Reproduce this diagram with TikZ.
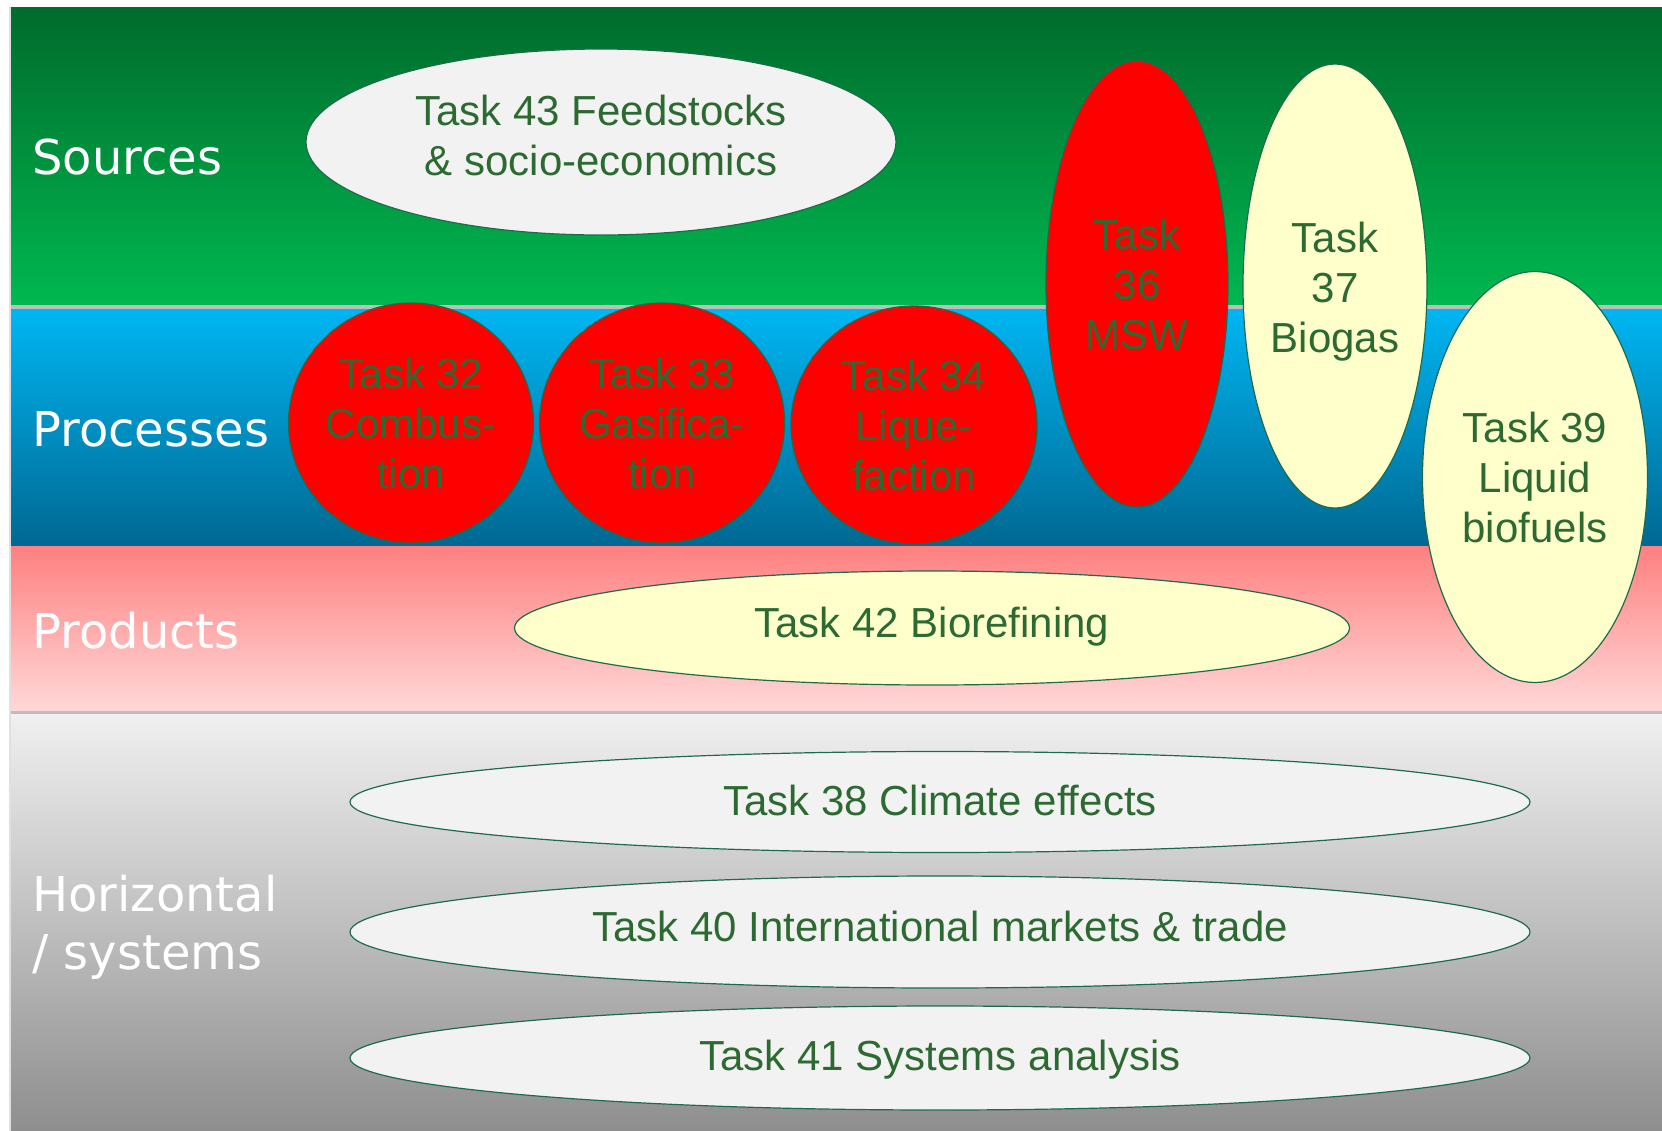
\documentclass[tikz,border=0pt]{standalone}
\usepackage{fontspec}
\setmainfont{Liberation Sans}
\newfontfamily\taskfont{Liberation Sans}
\newfontfamily\labfont{DejaVu Sans}
\usetikzlibrary{shapes.geometric}
\definecolor{grnTop}{HTML}{006B2C}
\definecolor{grnBot}{HTML}{00B850}
\definecolor{bluTop}{HTML}{00B6F2}
\definecolor{bluBot}{HTML}{006892}
\definecolor{pnkTop}{HTML}{FF8080}
\definecolor{pnkBot}{HTML}{FFD8D8}
\definecolor{gryTop}{HTML}{F0F0F0}
\definecolor{gryBot}{HTML}{8E8E8E}
\definecolor{sepgray}{HTML}{BDBDBD}
\definecolor{edgecol}{HTML}{1E6B4C}
\definecolor{txtcol}{HTML}{2C6A32}
\definecolor{lgray}{HTML}{F2F2F2}
\definecolor{lyellow}{HTML}{FFFFCC}
\definecolor{tred}{HTML}{FF0000}
% text whose first baseline sits #1 above the node centre
\newcommand{\tlines}[2]{\raisebox{#1}[0pt][0pt]{\begin{tabular}[t]{@{}c@{}}#2\end{tabular}}}
\tikzset{
  task/.style={ellipse, draw=edgecol, line width=0.6pt, inner sep=0pt, text=txtcol,
    font=\taskfont\fontsize{21}{25}\selectfont, align=center},
  lab/.style={anchor=west, inner sep=0pt, text=white, align=left,
    font=\labfont\fontsize{24}{29}\selectfont}
}
\begin{document}
\begin{tikzpicture}[x=0.5pt,y=-0.5pt]
\useasboundingbox (0,0) rectangle (1662,1131);
\fill[white] (0,0) rectangle (1662,1131);
\fill[black!12] (9,7) rectangle (11,1131);
% bands
\shade[top color=grnTop, bottom color=grnBot] (11,7) rectangle (1662,305);
\fill[sepgray] (11,305) rectangle (1662,309);
\shade[top color=bluTop, bottom color=bluBot] (11,309) rectangle (1662,546);
\shade[top color=pnkTop, bottom color=pnkBot] (11,546) rectangle (1662,711);
\fill[sepgray] (11,711) rectangle (1662,714);
\shade[top color=gryTop, bottom color=gryBot] (11,714) rectangle (1662,1131);
% labels
\node[lab] (src) at (32,157) {Sources};
\node[lab] (proc) at (32,429) {Processes};
\node[lab] (prod) at (32,631) {Products};
\node[lab] (hor) at (32,927) {Horizontal\\/ systems};
% tasks
\node[task, fill=lgray, minimum width=295pt, minimum height=93pt] (t43) at (601,142) {\tlines{8.4pt}{Task 43 Feedstocks\\\& socio-economics}};
\node[task, fill=tred, minimum width=122.5pt, minimum height=120pt] (t32) at (411,423) {Task 32\\Combus-\\tion};
\node[task, fill=tred, minimum width=122.5pt, minimum height=120pt] (t33) at (662,423) {Task 33\\Gasifica-\\tion};
\node[task, fill=tred, minimum width=123pt, minimum height=119pt] (t34) at (914,425) {Task 34\\Lique-\\faction};
\node[task, fill=tred, minimum width=91pt, minimum height=223pt] (t36) at (1137,284) {Task\\36\\MSW};
\node[task, fill=lyellow, minimum width=92pt, minimum height=222pt] (t37) at (1335,286) {\tlines{16.8pt}{Task\\37\\Biogas}};
\node[task, fill=lyellow, minimum width=112.5pt, minimum height=205.5pt] (t39) at (1535,477) {Task 39\\Liquid\\biofuels};
\node[task, fill=lyellow, minimum width=417.5pt, minimum height=57pt] (t42) at (932,628) {\tlines{-4.5pt}{Task 42 Biorefining}};
\node[task, fill=lgray, minimum width=590pt, minimum height=50.5pt] (t38) at (940,802) {\tlines{-6.6pt}{Task 38 Climate effects}};
\node[task, fill=lgray, minimum width=590pt, minimum height=56pt] (t40) at (940,932) {\tlines{-4.7pt}{Task 40 International markets \& trade}};
\node[task, fill=lgray, minimum width=590pt, minimum height=52pt] (t41) at (940,1058) {\tlines{-6.4pt}{Task 41 Systems analysis}};
\end{tikzpicture}
\end{document}
